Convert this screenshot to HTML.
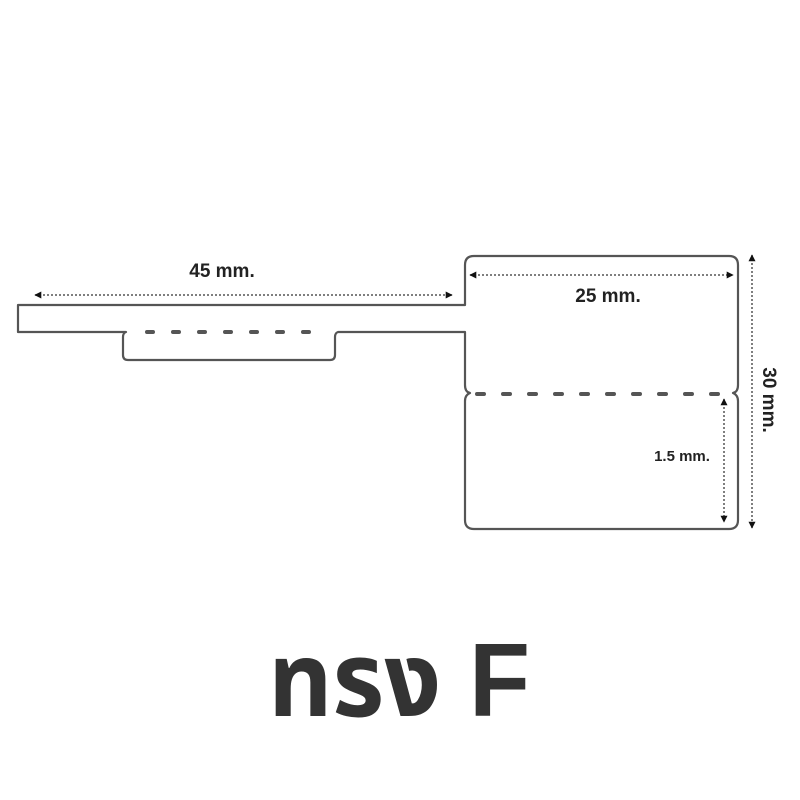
<!DOCTYPE html>
<html><head><meta charset="utf-8"><style>
html,body{margin:0;padding:0;background:#fff;}
svg{display:block;}
</style></head><body>
<svg width="800" height="800" viewBox="0 0 800 800" xmlns="http://www.w3.org/2000/svg">
<defs>
<marker id="ah" viewBox="0 0 10 10" refX="9" refY="5" markerWidth="7" markerHeight="7" orient="auto-start-reverse" markerUnits="userSpaceOnUse">
<path d="M0,0 L10,5 L0,10 z" fill="#111"/></marker>
</defs>
<g fill="none" stroke="#555" stroke-width="2.2" stroke-linejoin="round">
<path d="M18,305 L465,305 L465,265 Q465,256 474,256 L729,256 Q738,256 738,265 L738,385 Q738,392 733,393 Q738,395 738,401 L738,520 Q738,529 729,529 L474,529 Q465,529 465,520 L465,401 Q465,395 470,393 Q465,392 465,385 L465,332 L338,332 Q335,333 335,337 L335,355 Q335,360 330,360 L128,360 Q123,360 123,355 L123,337 Q123,333 126,332 L18,332 Z"/>
</g>
<g stroke="#555" stroke-width="4" stroke-linecap="round">
<path d="M147,332h6M173,332h6M199,332h6M225,332h6M251,332h6M277,332h6M303,332h6"/>
<path d="M477,394h7M503,394h7M529,394h7M555,394h7M581,394h7M607,394h7M633,394h7M659,394h7M685,394h7M711,394h7"/>
</g>
<g stroke="#555" stroke-width="1.5" stroke-dasharray="2,2" marker-start="url(#ah)" marker-end="url(#ah)">
<line x1="35" y1="295" x2="452" y2="295"/>
<line x1="470" y1="275" x2="733" y2="275"/>
<line x1="752" y1="255" x2="752" y2="528"/>
<line x1="724" y1="399" x2="724" y2="522"/>
</g>
<g font-family="Liberation Sans, sans-serif" font-weight="bold" fill="#222">
<text x="222" y="277" font-size="19" text-anchor="middle">45 mm.</text>
<text x="608" y="302" font-size="19" text-anchor="middle">25 mm.</text>
<text x="682" y="461" font-size="15" text-anchor="middle">1.5 mm.</text>
<text transform="translate(763,400) rotate(90)" font-size="19" text-anchor="middle">30 mm.</text>
</g>
<text x="268" y="716" font-family="Liberation Sans, DejaVu Sans, Noto Sans Thai, sans-serif" font-weight="bold" font-size="104" fill="#333" textLength="262" lengthAdjust="spacingAndGlyphs">ทรง F</text>
</svg>
</body></html>
